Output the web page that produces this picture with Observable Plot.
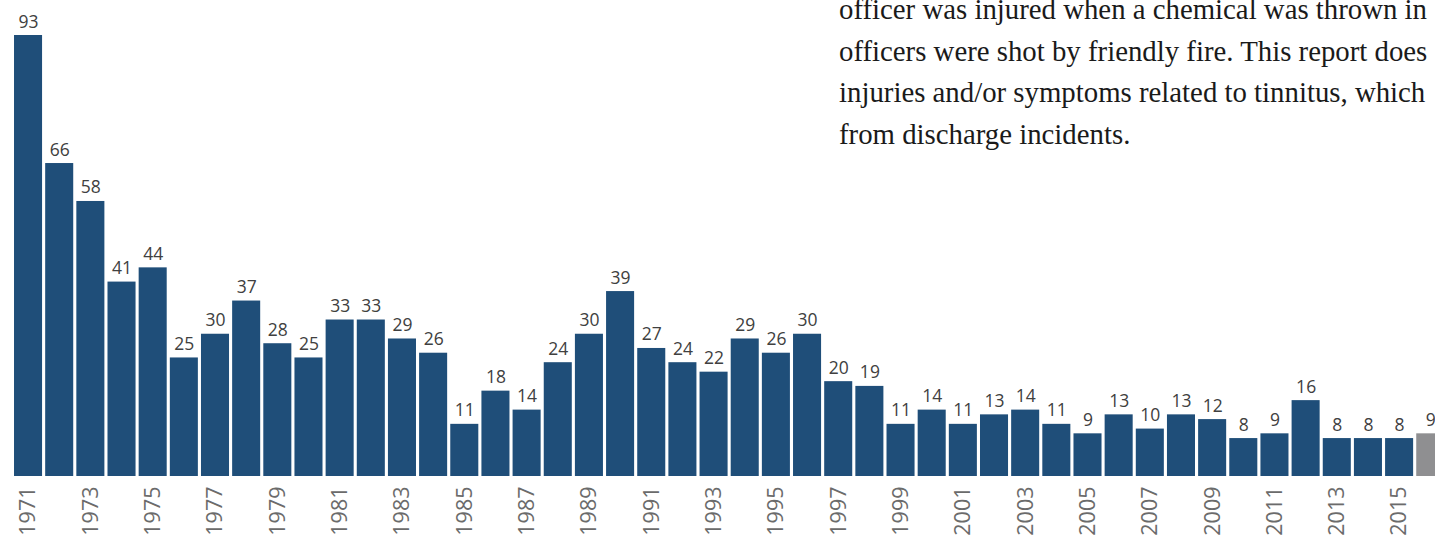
<!DOCTYPE html>
<html>
<head>
<meta charset="utf-8">
<script src="https://cdn.jsdelivr.net/npm/d3@7"></script>
<script src="https://cdn.jsdelivr.net/npm/@observablehq/plot@0.6"></script>
<style>
  html, body { margin: 0; padding: 0; background: #fff; width: 1435px; height: 539px; overflow: hidden; }
  #wrap { position: relative; width: 1435px; height: 539px; overflow: hidden; }
  #chart { position: absolute; left: 0; top: 0; width: 1450px; }
  #note {
    position: absolute; left: 839px; top: -11px;
    font-family: "Liberation Serif", "DejaVu Serif", serif;
    font-size: 28.8px; line-height: 41.7px; color: #1a1a1a;
    white-space: nowrap;
  }
</style>
</head>
<body>
<div id="wrap">
  <div id="chart"></div>
  <div id="note">
    officer was injured when a chemical was thrown in<br>
    officers were shot by friendly fire. This report does<br>
    injuries and/or symptoms related to tinnitus, which<br>
    from discharge incidents.
  </div>
</div>
<script>
const years = [1971,1972,1973,1974,1975,1976,1977,1978,1979,1980,1981,1982,1983,1984,1985,1986,1987,1988,1989,1990,1991,1992,1993,1994,1995,1996,1997,1998,1999,2000,2001,2002,2003,2004,2005,2006,2007,2008,2009,2010,2011,2012,2013,2014,2015,2016];
const counts = [93,66,58,41,44,25,30,37,28,25,33,33,29,26,11,18,14,24,30,39,27,24,22,29,26,30,20,19,11,14,11,13,14,11,9,13,10,13,12,8,9,16,8,8,8,9];
const tickYears = years.filter(y => y % 2 === 1);
const partialYear = 2016;

const data = years.map((year, i) => ({year, count: counts[i]}));
const BLUE = "#1f4e79";
const GRAY = "#8f8f91";

const chart = Plot.plot({
  width: 1450,
  height: 539,
  marginLeft: 10.9,
  marginRight: 2.6,
  marginTop: 35,
  marginBottom: 63,
  style: {fontFamily: "'Open Sans', sans-serif", background: "transparent", overflow: "visible", maxWidth: "none"},
  x: {type: "band", domain: years, padding: 0.1, round: false, label: null},
  y: {domain: [0, 93], axis: null},
  marks: [
    Plot.barY(data, {x: "year", y: "count", fill: d => d.year === partialYear ? GRAY : BLUE}),
    Plot.text(data, {x: "year", y: "count", text: d => String(d.count), dy: -8, lineAnchor: "bottom", fontSize: 17.5, fill: "#404040"}),
    Plot.axisX({ticks: tickYears, tickFormat: d => String(d), tickRotate: -90, tickSize: 0, tickPadding: 10, fontSize: 21.5, fill: "#6b6b6b", label: null})
  ]
});
document.getElementById("chart").appendChild(chart);
</script>
</body>
</html>
